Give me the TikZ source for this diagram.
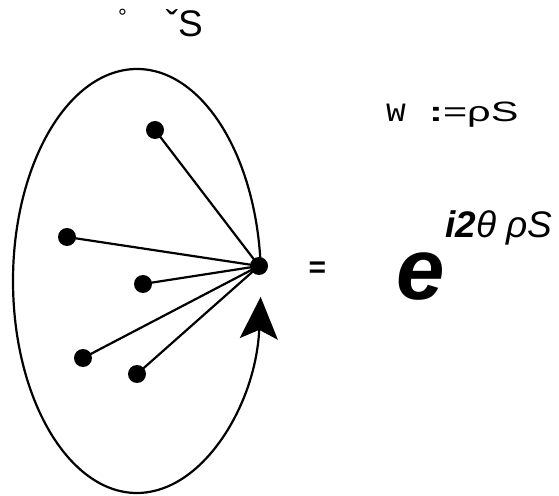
\documentclass[tikz,border=0pt]{standalone}
\usepackage{fontspec}
\setmainfont{Liberation Sans}
\newfontfamily\codefont{Liberation Mono}
\usetikzlibrary{arrows.meta, positioning}
\tikzset{
  vertex/.style={circle, fill=black, inner sep=0pt, minimum size=18pt},
  spoke/.style={draw=black, line width=2.2pt},
  orbit/.style={draw=black, line width=2.2pt,
                -{Stealth[length=42pt, width=38pt, inset=9pt]}},
  bigtext/.style={font=\fontsize{37}{40}\selectfont, inner sep=0pt},
  midtext/.style={font=\fontsize{28}{32}\selectfont, inner sep=0pt},
}

\begin{document}
\begin{tikzpicture}[x=1pt, y=1pt]
  \useasboundingbox (0,0) rectangle (559,495);

  % --- header glyphs ---
  \node[inner sep=0pt, font=\fontsize{22}{24}\selectfont] (ring) at (122.5,478) {°};
  \node[bigtext, anchor=base east] (caronS) at (203,458) {ˇS};

  % --- the loop ---
  \draw[orbit] (137,214) ++(4.06:124 and 212)
    arc[start angle=4.06, end angle=355.7, x radius=124, y radius=212];

  % --- points ---
  \node[vertex] (hub) at (259,229) {};
  \node[vertex] (p1)  at (155,365) {};
  \node[vertex] (p2)  at (67,258)  {};
  \node[vertex] (p3)  at (143,211) {};
  \node[vertex] (p4)  at (83,137)  {};
  \node[vertex] (p5)  at (137,121) {};

  \foreach \p in {p1,p2,p3,p4,p5}
    \draw[spoke] (\p.center) -- (hub.center);

  % --- formulas ---
  \node[inner sep=0pt, anchor=base west, font=\fontsize{33}{36}\selectfont]
    (wlab) at (386,373) {\codefont w};
  \node[midtext, anchor=base west] (wdef) at (429,373)
    {\scalebox{1.48}[1]{\textbf{:}=ρS}};
  \node[font=\fontsize{30}{32}\selectfont\bfseries, inner sep=0pt] (eq) at (317.5,225) {=};
  \node[anchor=base west, inner sep=0pt,
        font=\fontsize{87}{90}\selectfont\bfseries\itshape] (base) at (396,195) {e};
  \node[bigtext, anchor=base west] (expo) at (445,257)
    {\textbf{\textit{i2}}\textit{θ ρS}};
\end{tikzpicture}
\end{document}
